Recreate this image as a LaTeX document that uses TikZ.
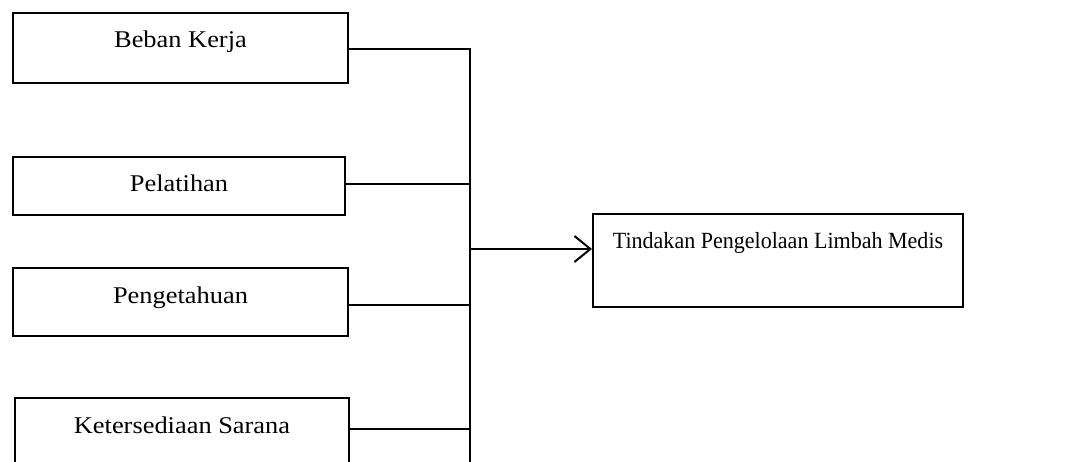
\documentclass[tikz,border=0pt]{standalone}
\usepackage{fontspec}
\setmainfont{Liberation Serif}
\newfontfamily\widefont[FakeStretch=1.1]{Liberation Serif}
\newfontfamily\narrowfont[FakeStretch=0.95]{Liberation Serif}
\usetikzlibrary{arrows.meta,calc}
\begin{document}
\begin{tikzpicture}[x=1pt,y=-1pt,
  box/.style={draw,line width=2pt,rectangle,inner sep=0pt,anchor=north west},
  boxtext/.style={anchor=base,inner sep=0pt,font=\widefont\fontsize{24}{28}\selectfont},
  wire/.style={line width=2pt}]
\useasboundingbox (0,0) rectangle (1075,462);
% factor boxes
\node[box,minimum width=335,minimum height=70] (b1) at (12,12) {};
\node[box,minimum width=332,minimum height=58] (b2) at (12,156) {};
\node[box,minimum width=335,minimum height=68] (b3) at (12,267) {};
\node[box,minimum width=334,minimum height=72] (b4) at (14,397) {};
% outcome box
\node[box,minimum width=370,minimum height=93] (out) at (592,213) {};
% box labels
\node[boxtext] (t1) at ($(b1.north)+(0,36)$) {Beban Kerja};
\node[boxtext] (t2) at ($(b2.north)+(0,36)$) {Pelatihan};
\node[boxtext] (t3) at ($(b3.north)+(0,36)$) {Pengetahuan};
\node[boxtext] (t4) at ($(b4.north)+(0,36)$) {Ketersediaan Sarana};
\node[boxtext,font=\narrowfont\fontsize{23.2}{27}\selectfont] (t5) at ($(out.north)+(0,35)$) {Tindakan Pengelolaan Limbah Medis};
% collecting bus
\coordinate (bt) at (470,49);
\coordinate (bb) at (470,465);
\coordinate (bm) at (470,249);
\draw[wire] (b1.east |- bt) -- (bt) -- (bb);
\draw[wire] (b2.east |- 0,184) -- (470,184);
\draw[wire] (b3.east |- 0,305) -- (470,305);
\draw[wire] (b4.east |- 0,429) -- (470,429);
\draw[wire,-{Straight Barb[length=16pt,width=26pt,line width=2pt]}] (bm) -- (out.west |- bm);
\end{tikzpicture}
\end{document}
